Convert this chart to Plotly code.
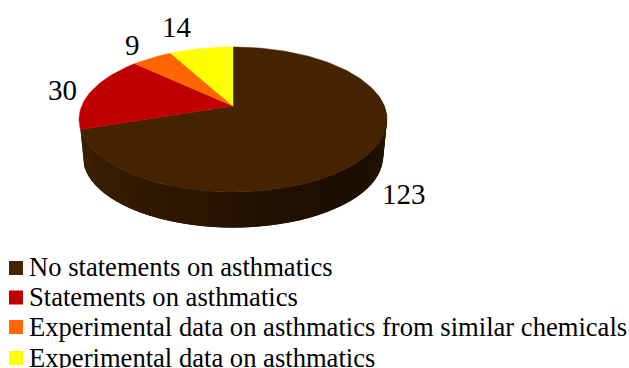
import math
import plotly.graph_objects as go

categories = [
    "No statements on asthmatics",
    "Statements on asthmatics",
    "Experimental data on asthmatics from similar chemicals",
    "Experimental data on asthmatics",
]
values = [123, 30, 9, 14]
colors = ["#462300", "#c00000", "#ff6600", "#ffff00"]

WIDTH, HEIGHT = 629, 368
FONT = "Liberation Serif"

# Tilted-disc projection: a unit circle seen in perspective.
CX, CY = 233.0, 106.0
BX, AY, K = 151.3, 70.0, 0.186
RIM_SCALE, RIM_DROP = 0.975, 37.5
ELLIPSE_CY = 119.5


def project(theta):
    """Top-face point for an angle measured clockwise from twelve o'clock."""
    sx, cy = math.sin(theta), math.cos(theta)
    d = 1 + K * cy
    return CX + BX * sx / d, CY - AY * cy / d


def lower(theta):
    x, y = project(theta)
    return CX + (x - CX) * RIM_SCALE, ELLIPSE_CY + (y - ELLIPSE_CY) * RIM_SCALE + RIM_DROP


def side_shade(x):
    # Left-to-right falloff of the wall, from the lit left edge to the dark right.
    stops = [(79, (60, 31, 2)), (150, (48, 25, 1)), (233, (38, 19, 0)),
             (330, (28, 14, 0)), (372, (30, 15, 0)), (387, (42, 21, 0))]
    for (x0, c0), (x1, c1) in zip(stops, stops[1:]):
        if x <= x1:
            t = max(0.0, (x - x0) / (x1 - x0))
            return "rgb(%d,%d,%d)" % tuple(round(a + (b - a) * t) for a, b in zip(c0, c1))
    return "rgb(%d,%d,%d)" % stops[-1][1]


total = sum(values)
fig = go.Figure()

# Slices run clockwise from twelve o'clock; the first one is the large brown wedge.
angles = []
start = 0.0
for v in values:
    end = start + v / total * 2 * math.pi
    angles.append((start, end))
    start = end

# Outer wall of the first slice: bands overlap their neighbour so no seams show.
a0, a1 = angles[0]
steps = 70
for i in range(steps):
    t0 = a0 + (a1 - a0) * i / steps
    t1 = a0 + (a1 - a0) * (i + 1) / steps
    mid = (t0 + t1) / 2
    if math.cos(mid) > 0.25:
        continue
    t_far = min(a1, t1 + (a1 - a0) / steps)
    pts = [project(t0), project(t_far), lower(t_far), lower(t0)]
    xs = [p[0] for p in pts] + [pts[0][0]]
    ys = [p[1] for p in pts] + [pts[0][1]]
    shade = side_shade(lower(mid)[0])
    fig.add_trace(go.Scatter(x=xs, y=ys, mode="lines", fill="toself", fillcolor=shade,
                             line=dict(color=shade, width=0), hoverinfo="skip",
                             showlegend=False))

# Top face of every slice.
for (a0, a1), color, name in zip(angles, colors, categories):
    n = max(8, int((a1 - a0) * 40))
    rim = [project(a0 + (a1 - a0) * i / n) for i in range(n + 1)]
    xs = [CX] + [p[0] for p in rim] + [CX]
    ys = [CY] + [p[1] for p in rim] + [CY]
    fig.add_trace(go.Scatter(x=xs, y=ys, mode="lines", fill="toself", fillcolor=color,
                             line=dict(color=color, width=0.5), name=name,
                             hoverinfo="name", showlegend=False))

# Value labels beside each slice.
label_pos = [(404, 194), (62, 90), (132, 45), (177, 27)]
annotations = [
    dict(x=x, y=y, text=str(v), showarrow=False, xref="x", yref="y",
         font=dict(family=FONT, size=29, color="#000000"))
    for v, (x, y) in zip(values, label_pos)
]

# Hand-placed key at the foot of the figure.
key_y = [268, 297.5, 327, 358]
text_y = [267, 296.5, 326.5, 357.5]
fig.add_trace(go.Scatter(x=[16] * 4, y=key_y, mode="markers",
                         marker=dict(symbol="square", size=14, color=colors, line=dict(width=0)),
                         hoverinfo="skip", showlegend=False))
for name, y in zip(categories, text_y):
    annotations.append(dict(x=27, y=y, text=name, showarrow=False, xref="x", yref="y",
                            xanchor="left", yanchor="middle",
                            font=dict(family=FONT, size=26.6, color="#000000")))

fig.update_layout(
    width=WIDTH, height=HEIGHT,
    margin=dict(l=0, r=0, t=0, b=0),
    paper_bgcolor="#ffffff", plot_bgcolor="#ffffff",
    xaxis=dict(range=[0, WIDTH], visible=False, fixedrange=True),
    yaxis=dict(range=[HEIGHT, 0], visible=False, fixedrange=True),
    annotations=annotations,
    showlegend=False,
)

fig.write_html("out.html", config=dict(displayModeBar=False))
